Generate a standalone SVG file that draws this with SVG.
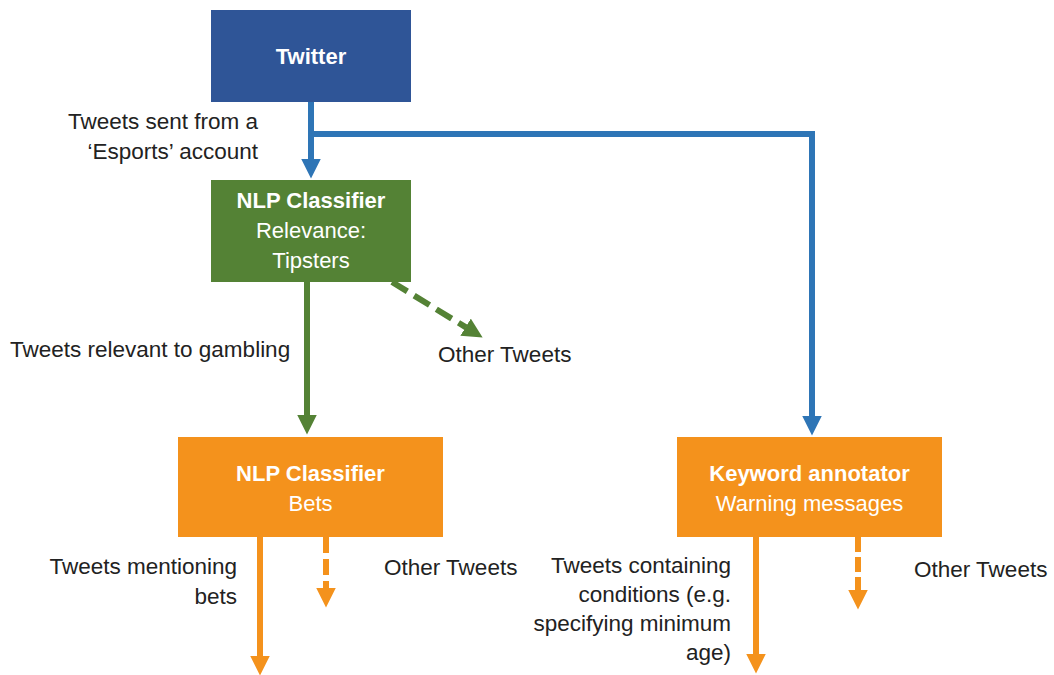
<svg xmlns="http://www.w3.org/2000/svg" width="1054" height="675" viewBox="0 0 1054 675">
<defs>
<style>
.lbl{font-family:"Liberation Sans",Arial,sans-serif;font-size:22.5px;fill:#222222}
.r{text-anchor:end}
.bt{font-family:"Liberation Sans",Arial,sans-serif;font-size:22px;fill:#ffffff;text-anchor:middle}
.b{font-weight:bold}
.cb{stroke:#2E75B6;stroke-width:6;fill:none}
.cg{stroke:#548235;stroke-width:6;fill:none}
.co{stroke:#F4921C;stroke-width:6;fill:none}
.dash{stroke-dasharray:16 6}
</style>
<marker id="ab" markerUnits="userSpaceOnUse" markerWidth="20" markerHeight="20" refX="0.5" refY="10" orient="auto"><path d="M0,0 L20,10 L0,20 z" fill="#2E75B6"/></marker>
<marker id="ag" markerUnits="userSpaceOnUse" markerWidth="20" markerHeight="20" refX="0.5" refY="10" orient="auto"><path d="M0,0 L20,10 L0,20 z" fill="#548235"/></marker>
<marker id="ao" markerUnits="userSpaceOnUse" markerWidth="20" markerHeight="20" refX="0.5" refY="10" orient="auto"><path d="M0,0 L20,10 L0,20 z" fill="#F4921C"/></marker>
</defs>
<rect width="1054" height="675" fill="#ffffff"/>
<g id="connectors">
<path class="cb" d="M311,102 V159" marker-end="url(#ab)"/>
<path class="cb" d="M311,134 H812 V416" marker-end="url(#ab)"/>
<path class="cg" d="M307,282 V415" marker-end="url(#ag)"/>
<path class="cg" d="M392,282 L466,327.4" stroke-dasharray="18 8" marker-end="url(#ag)"/>
<path class="co" d="M260,537 V656" marker-end="url(#ao)"/>
<path class="co dash" d="M326,537 V588" stroke-dasharray="14 5" marker-end="url(#ao)"/>
<path class="co" d="M756,537 V654" marker-end="url(#ao)"/>
<path class="co" d="M858,537 V590" stroke-dasharray="15 5" marker-end="url(#ao)"/>
</g>
<g id="twitter">
<rect x="211" y="10" width="200" height="92" fill="#2F5597"/>
<text class="bt b" x="311" y="64">Twitter</text>
</g>
<g id="nlp-relevance">
<rect x="211" y="180" width="200" height="102" fill="#548235"/>
<text class="bt b" x="311" y="208" font-size="21">NLP Classifier</text>
<text class="bt" x="311" y="238">Relevance:</text>
<text class="bt" x="311" y="268">Tipsters</text>
</g>
<g id="nlp-bets">
<rect x="178" y="437" width="265" height="100" fill="#F4921C"/>
<text class="bt b" x="310.5" y="481" font-size="21">NLP Classifier</text>
<text class="bt" x="310.5" y="511">Bets</text>
</g>
<g id="keyword">
<rect x="677" y="437" width="265" height="100" fill="#F4921C"/>
<text class="bt b" x="809.5" y="481">Keyword annotator</text>
<text class="bt" x="809.5" y="511">Warning messages</text>
</g>
<g id="labels">
<text class="lbl r" x="258" y="129">Tweets sent from a</text>
<text class="lbl r" x="258" y="159">‘Esports’ account</text>
<text class="lbl" x="10" y="357">Tweets relevant to gambling</text>
<text class="lbl" x="438" y="362">Other Tweets</text>
<text class="lbl r" x="237" y="574">Tweets mentioning</text>
<text class="lbl r" x="237" y="604">bets</text>
<text class="lbl" x="384" y="575">Other Tweets</text>
<text class="lbl r" x="731" y="573">Tweets containing</text>
<text class="lbl r" x="731" y="602">conditions (e.g.</text>
<text class="lbl r" x="731" y="631">specifying minimum</text>
<text class="lbl r" x="731" y="660">age)</text>
<text class="lbl" x="914" y="577">Other Tweets</text>
</g>
</svg>
